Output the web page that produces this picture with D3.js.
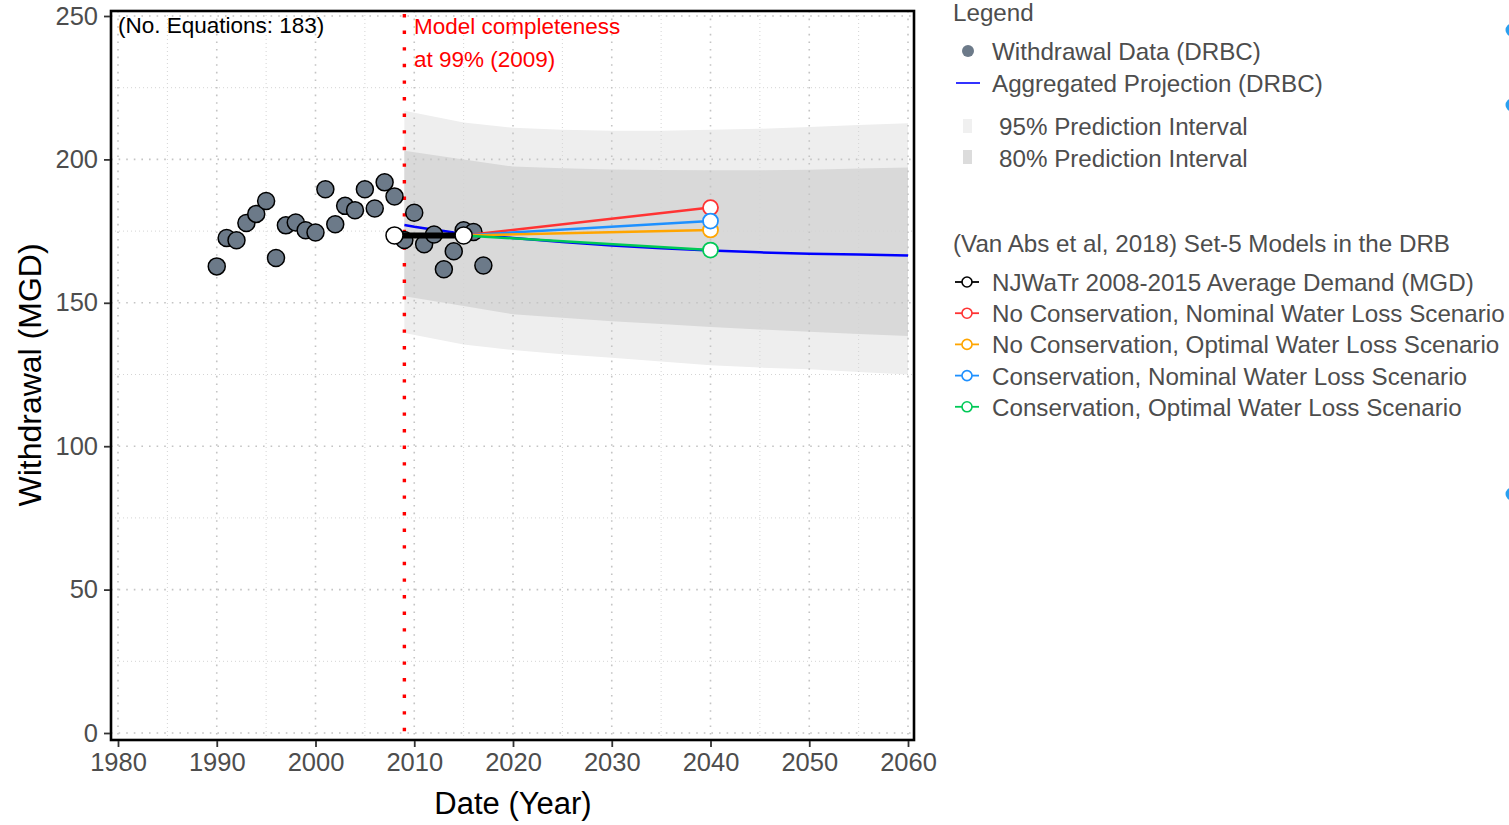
<!DOCTYPE html>
<html>
<head>
<meta charset="utf-8">
<script src="https://cdn.jsdelivr.net/npm/d3@7"></script>
<style>
  html, body { margin: 0; padding: 0; background: #fff; }
  svg { display: block; font-family: "Liberation Sans", Arial, sans-serif; }
</style>
</head>
<body>
<svg id="chart" width="1509" height="825"></svg>
<script>
// ---------- Data ----------
const obsYears = [1990,1991,1992,1993,1994,1995,1996,1997,1998,1999,2000,2001,2002,2003,2004,2005,2006,2007,2008,2009,2010,2011,2012,2013,2014,2015,2016,2017];
const obsValues = [162.7,172.6,171.8,177.8,181.0,185.5,165.6,177.0,178.0,175.3,174.5,189.6,177.4,183.8,182.3,189.6,182.9,192.0,187.1,171.9,181.4,170.4,173.8,161.7,168.0,175.3,174.7,163.0];

const projYears = [2009,2010,2011,2012,2013,2014,2015,2020,2025,2030,2035,2040,2045,2050,2055,2060];
const projValues = [177.1,176.5,176.0,175.5,175.0,174.5,174.1,172.6,171.2,170.0,169.0,168.2,167.6,167.1,166.8,166.5];

const bandYears = [2009,2015,2020,2025,2030,2035,2040,2045,2050,2055,2060];
const pi95Upper = [217.0,212.9,211.0,210.3,210.0,210.0,210.3,210.7,211.3,212.0,212.6];
const pi95Lower = [139.5,135.5,133.5,132.1,130.8,129.5,128.2,127.4,126.8,125.9,125.0];
const pi80Upper = [203.0,200.0,197.5,196.9,196.5,196.3,196.2,196.2,196.4,196.8,197.2];
const pi80Lower = [152.3,148.9,146.0,144.8,143.6,142.6,141.6,140.7,139.9,139.1,138.4];

const njYears = [2008, 2015];
const njValues = [173.5, 173.5];

const scenarioNames = [
  "No Conservation, Nominal Water Loss Scenario",
  "No Conservation, Optimal Water Loss Scenario",
  "Conservation, Nominal Water Loss Scenario",
  "Conservation, Optimal Water Loss Scenario"
];
const scenarioColors = ["#ff3333", "#ffa500", "#1e90ff", "#00c957"];
const scenarioYears = [2015, 2040];
const scenarioStart = [173.5, 173.5, 173.5, 173.5];
const scenario2040 = [183.2, 175.4, 178.5, 168.4];
const drawOrder = [0, 2, 1, 3];

const xTicks = [1980,1990,2000,2010,2020,2030,2040,2050,2060];
const xMinor = [1985,1995,2005,2015,2025,2035,2045,2055];
const yTicks = [0,50,100,150,200,250];
const yMinor = [25,75,125,175,225];

const completenessYear = 2009;

// ---------- Layout ----------
const svg = d3.select("#chart");
const x = d3.scaleLinear().domain([1980, 2060]).range([118, 908]);
const y = d3.scaleLinear().domain([0, 250]).range([733, 16]);
const panel = { x0: 111, x1: 914, y0: 11, y1: 740 };

// bands
const area = (lo, hi) => d3.area()
  .x((d, i) => x(bandYears[i]))
  .y0((d, i) => y(lo[i]))
  .y1((d, i) => y(hi[i]))(bandYears);
svg.append("path").attr("d", area(pi95Lower, pi95Upper)).attr("fill", "#eeeeee");
svg.append("path").attr("d", area(pi80Lower, pi80Upper)).attr("fill", "#d9d9d9");

// grid
const gGrid = svg.append("g");
yMinor.forEach(v => gGrid.append("line").attr("x1", panel.x0).attr("x2", panel.x1).attr("y1", y(v)).attr("y2", y(v))
  .attr("stroke", "#d4d4d4").attr("stroke-width", 1).attr("stroke-dasharray", "1 3"));
xMinor.forEach(v => gGrid.append("line").attr("y1", panel.y0).attr("y2", panel.y1).attr("x1", x(v)).attr("x2", x(v))
  .attr("stroke", "#d4d4d4").attr("stroke-width", 1).attr("stroke-dasharray", "1 3"));
yTicks.forEach(v => gGrid.append("line").attr("x1", panel.x0).attr("x2", panel.x1).attr("y1", y(v)).attr("y2", y(v))
  .attr("stroke", "#c4c4c4").attr("stroke-width", 1.6).attr("stroke-dasharray", "1.6 6"));
xTicks.forEach(v => gGrid.append("line").attr("y1", panel.y0).attr("y2", panel.y1).attr("x1", x(v)).attr("x2", x(v))
  .attr("stroke", "#c4c4c4").attr("stroke-width", 1.6).attr("stroke-dasharray", "1.6 6"));

// completeness line
svg.append("line")
  .attr("x1", x(completenessYear)).attr("x2", x(completenessYear))
  .attr("y1", panel.y0 + 3).attr("y2", panel.y1)
  .attr("stroke", "#ff0000").attr("stroke-width", 3.4).attr("stroke-dasharray", "3.4 13.2");

// aggregated projection
const line = d3.line().x(d => x(d[0])).y(d => y(d[1]));
svg.append("path").attr("d", line(projYears.map((yr, i) => [yr, projValues[i]])))
  .attr("fill", "none").attr("stroke", "#0000ff").attr("stroke-width", 2.5);

// observed points
svg.append("g").selectAll("circle").data(obsYears).join("circle")
  .attr("cx", d => x(d)).attr("cy", (d, i) => y(obsValues[i])).attr("r", 8.5)
  .attr("fill", "#6c7a89").attr("stroke", "#000").attr("stroke-width", 1.5);

// NJWaTr line
svg.append("path").attr("d", line(njYears.map((yr, i) => [yr, njValues[i]])))
  .attr("fill", "none").attr("stroke", "#000").attr("stroke-width", 6);

// scenario lines
drawOrder.forEach(k => {
  svg.append("path").attr("d", line([[scenarioYears[0], scenarioStart[k]], [scenarioYears[1], scenario2040[k]]]))
    .attr("fill", "none").attr("stroke", scenarioColors[k]).attr("stroke-width", 2.5);
});
// NJ circles
njYears.forEach((yr, i) => svg.append("circle").attr("cx", x(yr)).attr("cy", y(njValues[i])).attr("r", 8.5)
  .attr("fill", "#fff").attr("stroke", "#000").attr("stroke-width", 1.5));
// 2040 circles
[1, 0, 3, 2].forEach(k => svg.append("circle").attr("cx", x(scenarioYears[1])).attr("cy", y(scenario2040[k])).attr("r", 7.5)
  .attr("fill", "#fff").attr("stroke", scenarioColors[k]).attr("stroke-width", 1.8));

// panel border
svg.append("rect").attr("x", panel.x0).attr("y", panel.y0).attr("width", panel.x1 - panel.x0).attr("height", panel.y1 - panel.y0)
  .attr("fill", "none").attr("stroke", "#000").attr("stroke-width", 2.6);

// axes
const xAxis = svg.append("g").attr("transform", `translate(0,${panel.y1 + 1})`)
  .call(d3.axisBottom(x).tickValues(xTicks).tickFormat(d3.format("d")).tickSize(6).tickPadding(4));
const yAxis = svg.append("g").attr("transform", `translate(${panel.x0 - 1},0)`)
  .call(d3.axisLeft(y).tickValues(yTicks).tickSize(6).tickPadding(6));
[xAxis, yAxis].forEach(a => {
  a.select(".domain").remove();
  a.selectAll(".tick line").attr("stroke", "#333").attr("stroke-width", 1.8);
  a.selectAll(".tick text").attr("fill", "#4d4d4d").style("font-size", "25.5px").style("font-family", "'Liberation Sans', Arial, sans-serif");
});
xAxis.selectAll(".tick text").attr("dy", "0.8em");

// axis titles
svg.append("text").attr("x", 513).attr("y", 814).attr("text-anchor", "middle")
  .style("font-size", "31px").attr("fill", "#000").text("Date (Year)");
svg.append("text").attr("transform", "translate(41,375) rotate(-90)").attr("text-anchor", "middle")
  .style("font-size", "32px").attr("fill", "#000").text("Withdrawal (MGD)");

// annotations
svg.append("text").attr("x", 118).attr("y", 33).style("font-size", "22.5px").attr("fill", "#000").text("(No. Equations: 183)");
svg.append("text").attr("x", 414).attr("y", 34).style("font-size", "22.5px").attr("fill", "#ff0000").text("Model completeness");
svg.append("text").attr("x", 414).attr("y", 67).style("font-size", "22.5px").attr("fill", "#ff0000").text("at 99% (2009)");

// legend
const lg = svg.append("g").style("font-size", "24.2px").attr("fill", "#4d4d4d");
lg.append("text").attr("x", 953).attr("y", 21).text("Legend");
lg.append("circle").attr("cx", 968).attr("cy", 51).attr("r", 6).attr("fill", "#6c7a89");
lg.append("text").attr("x", 992).attr("y", 60).text("Withdrawal Data (DRBC)");
lg.append("line").attr("x1", 956).attr("x2", 980).attr("y1", 83).attr("y2", 83).attr("stroke", "#0000ff").attr("stroke-width", 1.6);
lg.append("text").attr("x", 992).attr("y", 92).text("Aggregated Projection (DRBC)");
lg.append("rect").attr("x", 963).attr("y", 119).attr("width", 9).attr("height", 14).attr("fill", "#f0f0f0");
lg.append("text").attr("x", 999).attr("y", 135).text("95% Prediction Interval");
lg.append("rect").attr("x", 963).attr("y", 150).attr("width", 9).attr("height", 14).attr("fill", "#dcdcdc");
lg.append("text").attr("x", 999).attr("y", 167).text("80% Prediction Interval");

lg.append("text").attr("x", 953).attr("y", 252).text("(Van Abs et al, 2018) Set-5 Models in the DRB");
const keyNames = ["NJWaTr 2008-2015 Average Demand (MGD)"].concat(scenarioNames);
const keyColors = ["#000000"].concat(scenarioColors);
keyNames.forEach((nm, i) => {
  const cy = 282 + i * 31.2;
  lg.append("line").attr("x1", 955).attr("x2", 979).attr("y1", cy).attr("y2", cy).attr("stroke", keyColors[i]).attr("stroke-width", 1.8);
  lg.append("circle").attr("cx", 967).attr("cy", cy).attr("r", 5).attr("fill", "#fff").attr("stroke", keyColors[i]).attr("stroke-width", 1.6);
  lg.append("text").attr("x", 992).attr("y", cy + 9).text(nm);
});

// clipped markers at the right edge
[30, 105, 494].forEach(cy => svg.append("circle").attr("cx", 1512).attr("cy", cy).attr("r", 6.5).attr("fill", "#2aa0f0"));
</script>
</body>
</html>
